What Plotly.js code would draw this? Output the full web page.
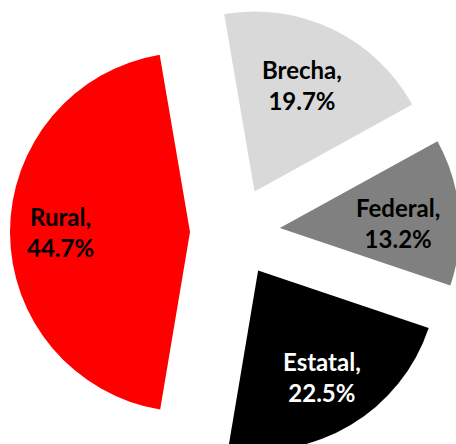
<!DOCTYPE html>
<html>
<head>
<meta charset="utf-8">
<script src="https://cdn.plot.ly/plotly-3.0.1.min.js"></script>
<style>
html,body{margin:0;padding:0;overflow:hidden;background:#fff;width:456px;height:444px;}
#chart{width:470px;height:464px;}
</style>
</head>
<body>
<div id="chart"></div>
<script>
const labels = ["Brecha", "Federal", "Estatal", "Rural"];
const values = [19.7, 13.2, 22.5, 44.7];
const colors = ["#D9D9D9", "#808080", "#000000", "#FF0000"];
const textColors = ["#000000", "#000000", "#FFFFFF", "#000000"];
// label anchor positions (paper coordinates)
const labelX = [0.643, 0.847, 0.685, 0.128];
const labelY = [0.827, 0.52, 0.178, 0.5];

const annotations = labels.map((lab, i) => ({
  xref: "paper", yref: "paper",
  x: labelX[i], y: labelY[i],
  xanchor: "center", yanchor: "middle",
  showarrow: false,
  align: "center",
  text: "<b>" + lab + ",<br>" + values[i].toFixed(1) + "%</b>",
  font: {family: "Lato, 'Open Sans', sans-serif", size: 24, color: textColors[i]}
}));

Plotly.newPlot("chart", [{
  type: "pie",
  labels: labels,
  values: values,
  sort: false,
  direction: "clockwise",
  rotation: -9.7,
  pull: labels.map(() => 0.25),
  marker: {colors: colors, line: {width: 0}},
  textinfo: "none",
  hoverinfo: "none",
  showlegend: false
}], {
  width: 470, height: 464,
  margin: {l: 0, r: 0, t: 7, b: 7},
  paper_bgcolor: "#fff",
  showlegend: false,
  annotations: annotations
}, {staticPlot: true, displayModeBar: false});
</script>
</body>
</html>
